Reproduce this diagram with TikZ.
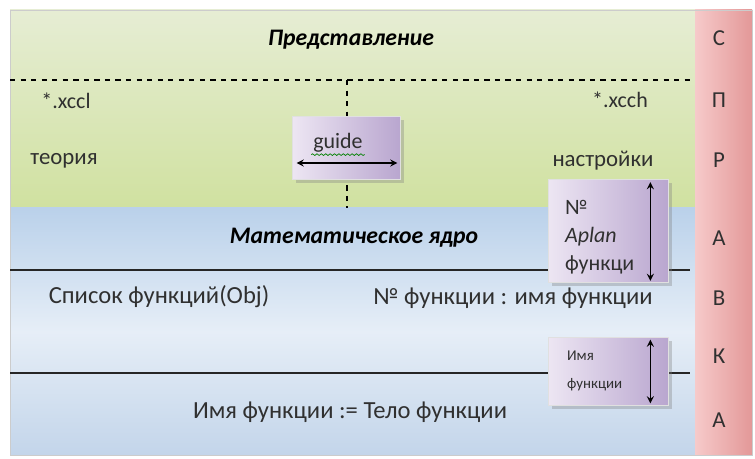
\documentclass[tikz,border=0pt]{standalone}
\usepackage{fontspec}
\setmainfont{Carlito}
\usetikzlibrary{positioning,shadows,calc,decorations.pathmorphing}

\definecolor{greenTop}{HTML}{E6EDD4}
\definecolor{greenBot}{HTML}{D0E1A0}
\definecolor{blueTop}{HTML}{BAD1EA}
\definecolor{blueMid}{HTML}{E6EEF7}
\definecolor{blueBot}{HTML}{C3D5EA}
\definecolor{pinkMid}{HTML}{F6CACA}
\definecolor{pinkEdge}{HTML}{E39898}
\definecolor{boxLight}{HTML}{EDE6F3}
\definecolor{boxDark}{HTML}{B9A6CF}
\definecolor{textGray}{HTML}{303030}

\begin{document}
\begin{tikzpicture}[x=0.02cm,y=-0.02cm,
		every node/.style={font=\fontsize{14}{16}\selectfont,text=textGray,inner sep=1pt},
		head/.style={font=\fontsize{13.5}{15}\selectfont\bfseries\itshape,text=black},
		letter/.style={font=\fontsize{13}{15}\selectfont},
		boxtext/.style={font=\fontsize{12.5}{14}\selectfont,anchor=west},
		small/.style={font=\fontsize{8.5}{10}\selectfont,anchor=west},
		infobox/.style={draw=black!12,left color=boxLight,right color=boxDark,
			drop shadow={shadow xshift=2pt,shadow yshift=-2pt,opacity=.35},
			minimum width=2.4cm,inner sep=0pt},
		divider/.style={black!85,line width=1.1pt},
		twoway/.style={<->,>=stealth,black,line width=0.8pt}]
		
		\useasboundingbox (0,0) rectangle (755,459);
		
		% layers
		\shade[top color=greenTop,bottom color=greenBot] (10,10) rectangle (695,208);
		\shade[top color=blueTop,bottom color=blueBot,middle color=blueMid] (10,208) rectangle (695,455);
		\shade[left color=pinkMid,right color=pinkEdge] (695,10) rectangle (752,455);
		\draw[black!20] (10,10) rectangle (752,455);
		
		% dividers
		\coordinate (dl) at (10,80);
		\coordinate (dr) at (690,80);
		\coordinate (dm) at (347,80);
		\coordinate (db) at (347,208);
		\coordinate (ml) at (10,270);
		\coordinate (mr) at (690,270);
		\coordinate (ll) at (10,373);
		\coordinate (lr) at (690,373);
		\draw[dashed,black,thick] (dl) -- (dr);
		\draw[dashed,black,thick] (dm) -- (db);
		\draw[divider] (ml) -- (mr);
		\draw[divider] (ll) -- (lr);
		
		% upper layer
		\node[head] (view) at (351,40) {Представление};
		\node[font=\fontsize{12.5}{14}\selectfont] (xccl) at (66,101) {*.xccl};
		\node[font=\fontsize{12.5}{14}\selectfont] (xcch) at (620,100) {*.xcch};
		\node[font=\fontsize{13}{15}\selectfont] (theory) at (64,161) {теория};
		\node[font=\fontsize{13}{15}\selectfont] (settings) at (603,161) {настройки};
		
		\node[infobox,minimum width=2.16cm,minimum height=1.26cm] (guide) at (346,148) {};
		\node[font=\fontsize{12.5}{14}\selectfont] (gtxt) at (338,143) {guide};
		\draw[green!50!black,decorate,decoration={snake,amplitude=0.5pt,segment length=2.5pt}]
			(gtxt.south west) -- (gtxt.south east);
		\draw[twoway] ($(guide.west)+(5,15)$) -- ($(guide.east)+(-3,15)$);
		
		% kernel
		\node[head] (core) at (354,238) {Математическое ядро};
		\node (list) at (159,297) {Список функций(Obj)};
		\node (num) at (513,298) {№ функции : имя функции};
		\node (body) at (350,412) {Имя функции := Тело функции};
		
		\node[infobox,minimum height=2.06cm] (aplan) at (608,231) {};
		\node[boxtext] (n1) at (563,207) {№};
		\node[boxtext,font=\fontsize{12.5}{14}\selectfont\itshape] (n2) at (563,237) {Aplan};
		\node[boxtext] (n3) at (563,265) {функци};
		\draw[twoway] ($(aplan.north east)+(-18,3)$) -- ($(aplan.south east)+(-18,-2)$);
		
		\node[infobox,minimum height=1.36cm] (fname) at (608,371) {};
		\node[small] (f1) at (565,356) {Имя};
		\node[small] (f2) at (565,385) {функции};
		\draw[twoway] ($(fname.north east)+(-18,3)$) -- ($(fname.south east)+(-18,-2)$);
		
		% help column
		\node[letter] (s1) at (719,38) {С};
		\node[letter] (s2) at (719,100) {П};
		\node[letter] (s3) at (719,160) {Р};
		\node[letter] (s4) at (719,238) {А};
		\node[letter] (s5) at (719,298) {В};
		\node[letter] (s6) at (719,356) {К};
		\node[letter] (s7) at (719,420) {А};
\end{tikzpicture}
\end{document}
